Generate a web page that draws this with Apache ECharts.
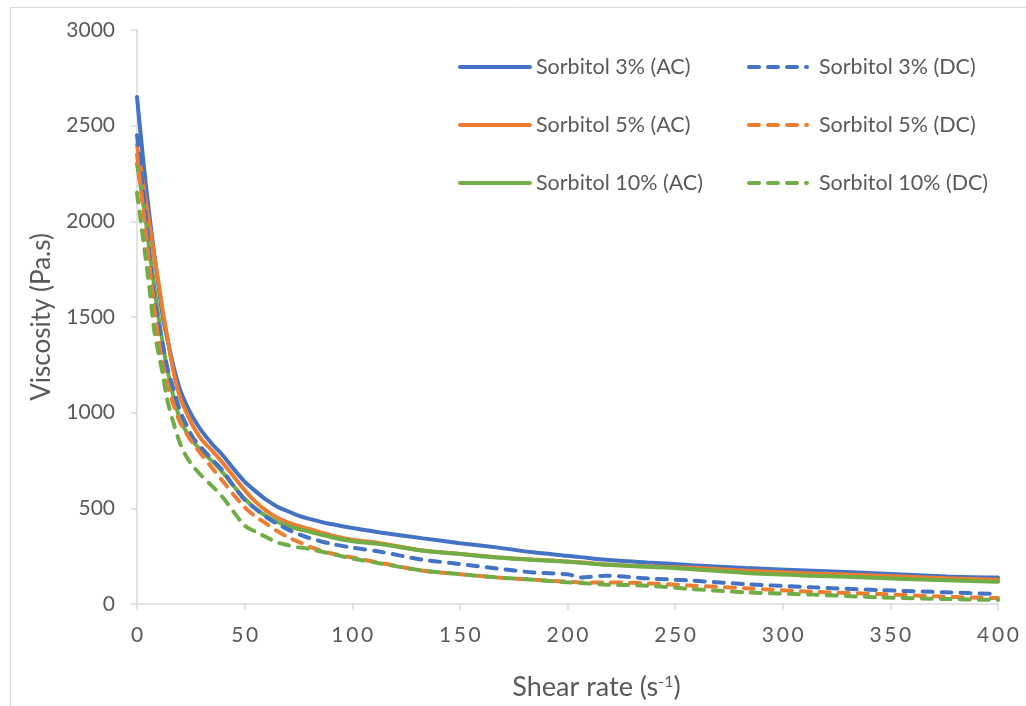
<!DOCTYPE html>
<html>
<head>
<meta charset="utf-8">
<script src="https://cdn.jsdelivr.net/npm/echarts@6/dist/echarts.min.js"></script>
<style>
html,body{margin:0;padding:0;background:#fff;}
#c{width:1026px;height:706px;}
</style>
</head>
<body>
<div id="c"></div>
<script>
const shearRate = [0,2,4,6,8,10,12,14,17,20,23,26,30,35,40,45,50,55,60,65,70,75,80,90,100,113,133,150,167,184,200,206,218,237,258,283,314,345,376,400];
const sorb3AC  = [2650,2420,2200,2010,1830,1660,1500,1390,1240,1120,1040,975,905,835,775,705,640,590,545,510,485,462,445,418,398,374,343,318,296,270,252,245,231,217,203,188,174,160,144,138];
const sorb5AC  = [2400,2260,2110,1970,1820,1680,1530,1400,1210,1080,1000,930,860,800,735,665,595,535,488,452,427,408,392,360,336,318,280,262,245,232,222,218,207,197,190,174,160,148,134,127];
const sorb10AC = [2300,2160,2010,1830,1660,1500,1360,1230,1080,965,900,850,800,745,685,615,550,500,460,430,408,392,378,350,328,313,278,261,243,230,221,216,205,195,182,162,148,136,124,116];
const sorb3DC  = [2450,2250,2030,1800,1600,1470,1350,1240,1120,1010,935,870,815,755,695,615,545,498,455,420,390,365,345,315,295,273,231,209,186,165,155,139,148,134,122,104,87,73,61,52];
const sorb5DC  = [2350,2150,1950,1750,1550,1380,1250,1150,1040,950,890,840,780,710,640,570,505,458,420,382,350,325,300,265,243,215,174,156,139,127,116,113,113,108,96,82,64,52,38,31];
const sorb10DC = [2150,1980,1810,1630,1430,1310,1200,1070,945,840,770,720,670,615,555,480,410,378,350,322,308,296,288,263,238,212,174,156,139,127,113,110,101,96,78,61,49,35,26,21];
const xTicks = {min:0, max:400, interval:50};
const yTicks = {min:0, max:3000, interval:500};
const seriesNames = ['Sorbitol 3% (AC)','Sorbitol 5% (AC)','Sorbitol 10% (AC)','Sorbitol 3% (DC)','Sorbitol 5% (DC)','Sorbitol 10% (DC)'];
const seriesValues = [sorb3AC, sorb5AC, sorb10AC, sorb3DC, sorb5DC, sorb10DC];
const colors = ['#4472C4','#ED7D31','#70AD47','#4472C4','#ED7D31','#70AD47'];

const FONT = 'Lato';
const TXT = '#595959';
const AX = '#d9d9d9';

const series = seriesNames.map((name, k) => ({
  name: name,
  type: 'line',
  smooth: 0.3,
  symbol: 'none',
  data: shearRate.map((x, i) => [x, seriesValues[k][i]]),
  lineStyle: {
    color: colors[k],
    width: 4,
    type: k >= 3 ? [10, 9] : 'solid',
    cap: 'round'
  },
  itemStyle: {color: colors[k]},
  emphasis: {disabled: true}
}));

const legendCommon = {
  orient: 'vertical',
  itemHeight: 14,
  itemGap: 36,
  padding: 0,
  itemStyle: {opacity: 0, borderWidth: 0},
  lineStyle: {width: 4, cap: 'round'},
  selectedMode: false
};

const chart = echarts.init(document.getElementById('c'), null, {renderer: 'canvas'});
chart.setOption({
  animation: false,
  color: colors,
  graphic: [{
    type: 'rect',
    shape: {x: 10.5, y: 7.5, width: 1100, height: 800},
    style: {fill: 'none', stroke: '#d9d9d9', lineWidth: 1},
    silent: true
  }],
  grid: {left: 137, right: 28, top: 30, bottom: 101, containLabel: false},
  legend: [
    Object.assign({}, legendCommon, {left: 458, top: 56, itemWidth: 70,
      textStyle: {fontFamily: FONT, fontSize: 21.5, color: TXT, lineHeight: 22, padding: [0, 0, 0, 1]},
      data: seriesNames.slice(0,3)}),
    Object.assign({}, legendCommon, {left: 747, top: 56, itemWidth: 58,
      textStyle: {fontFamily: FONT, fontSize: 21.5, color: TXT, lineHeight: 22, padding: [0, 0, 0, 7]},
      data: seriesNames.slice(3,6)})
  ],
  xAxis: {
    type: 'value',
    min: xTicks.min, max: xTicks.max, interval: xTicks.interval,
    name: '{a|Shear rate (s}{b|-1}{a|)}',
    nameLocation: 'middle',
    nameGap: 70,
    nameTextStyle: {
      padding: [0, 0, 0, 58],
      rich: {
        a: {fontFamily: FONT, fontSize: 27, color: TXT},
        b: {fontFamily: FONT, fontSize: 16, color: TXT, verticalAlign: 'top', padding: [0, 0, 10, 0]}
      }
    },
    axisLine: {show: true, lineStyle: {color: AX, width: 1.5}},
    axisTick: {show: true, length: 6, lineStyle: {color: AX, width: 1.5}},
    splitLine: {show: false},
    axisLabel: {
      fontFamily: FONT, fontSize: 21, color: TXT, margin: 21,
      formatter: v => String(v).split('').join('\u2009')
    }
  },
  yAxis: {
    type: 'value',
    min: yTicks.min, max: yTicks.max, interval: yTicks.interval,
    name: 'Viscosity (Pa.s)',
    nameLocation: 'middle',
    nameGap: 82,
    nameTextStyle: {fontFamily: FONT, fontSize: 26, color: TXT},
    axisLine: {show: true, lineStyle: {color: AX, width: 1.5}},
    axisTick: {show: true, length: 6, lineStyle: {color: AX, width: 1.5}},
    splitLine: {show: false},
    axisLabel: {fontFamily: FONT, fontSize: 21, color: TXT, margin: 22, formatter: v => String(v)}
  },
  series: series
});
</script>
</body>
</html>
